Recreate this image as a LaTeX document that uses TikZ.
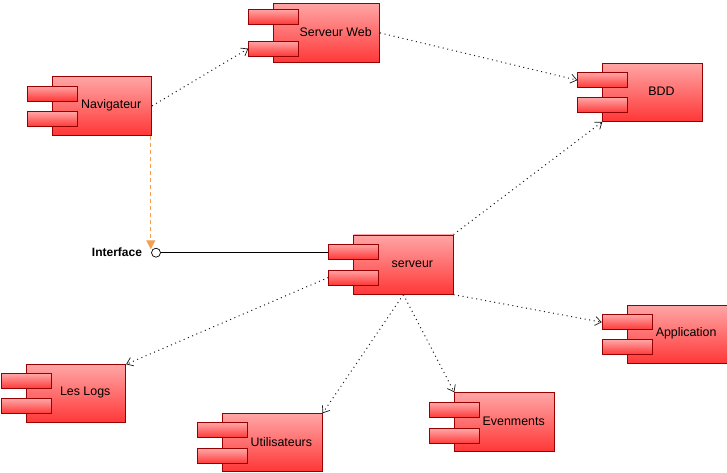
\documentclass[tikz,border=0pt]{standalone}
\usepackage{fontspec}
\setmainfont{Liberation Sans}
\usetikzlibrary{arrows.meta}

\definecolor{compborder}{RGB}{150,0,0}
\definecolor{comptop}{RGB}{255,165,165}
\definecolor{compbottom}{RGB}{255,55,55}
\definecolor{realize}{RGB}{245,160,80}
\definecolor{depcol}{RGB}{25,25,25}

\tikzset{
  compbox/.style={draw=compborder, line width=0.8pt, top color=comptop,
    bottom color=compbottom, inner sep=0pt},
  portbox/.style={compbox, minimum width=50pt, minimum height=15pt},
  complabel/.style={font=\fontsize{12.4}{14}\selectfont, text=black, inner sep=0pt},
  depend/.style={draw=depcol, line width=1pt, dash pattern=on 1pt off 3.6pt,
    -{Straight Barb[length=6pt,width=9pt,line width=0.7pt]}},
  realization/.style={draw=realize, line width=1pt, dash pattern=on 4pt off 3pt,
    -{Triangle[length=9pt,width=9pt,fill=realize]}},
  lollipop/.style={circle, draw=black, fill=white, line width=0.7pt,
    minimum size=9pt, inner sep=0pt},
}

% component: name, left, top, width, height, port1 offset, port2 offset, label
\newcommand\umlcomp[8]{%
  \node[compbox, minimum width=#4pt, minimum height=#5pt, anchor=north west] (#1) at (#2,#3) {};
  \node[portbox, anchor=north west] (#1-p1) at ([xshift=-25pt,yshift=-#6pt]#1.north west) {};
  \node[portbox, anchor=north west] (#1-p2) at ([xshift=-25pt,yshift=-#7pt]#1.north west) {};
  \node[complabel] (#1-t) at ([xshift=9pt,yshift=0.8pt]#1.center) {#8};
}

\begin{document}
\begin{tikzpicture}[x=1pt,y=-1pt]
  \useasboundingbox[fill=white] (0,0) rectangle (727,472);

  \umlcomp{nav}{52.3}{76}{99}{59}{9.6}{35.2}{Navigateur}
  \umlcomp{web}{273.3}{2.7}{106}{59.6}{6.3}{38}{Serveur Web}
  \umlcomp{bdd}{602.3}{62.7}{99.4}{58.3}{9.6}{34.6}{BDD}
  \umlcomp{srv}{353.3}{234.5}{99.4}{59.3}{9.3}{35.1}{serveur}
  \umlcomp{logs}{26.3}{364.3}{99}{58}{9}{34}{Les Logs}
  \umlcomp{users}{222.3}{413.3}{99.4}{57.7}{9}{35}{Utilisateurs}
  \umlcomp{events}{454.3}{392.3}{100}{58.7}{10}{36}{Evenments}
  \umlcomp{app}{626.7}{305}{100}{58.3}{9.3}{34.3}{Application}

  % provided interface of the server
  \node[lollipop] (iface) at (156,252.7) {};
  \node[font=\fontsize{12}{14}\selectfont\bfseries, inner sep=0pt, anchor=east]
    (iface-t) at ([xshift=-9pt]iface.west) {Interface};
  \draw[line width=0.8pt] (iface.east) -- (iface.east -| srv-p1.west);

  % realization of the interface by the browser
  \draw[realization] ([xshift=-1.3pt]nav.south east)
    -- ([xshift=-1.3pt]nav.south east |- iface.north west);

  % dependencies
  \draw[depend] (nav.east) -- (web-p2.west);
  \draw[depend] (web.east) -- (bdd-p1.west);
  \draw[depend] (srv.north east) -- (bdd.south west);
  \draw[depend] (srv-p2.west) -- (logs.north east);
  \draw[depend] (srv.south) -- (users.north east);
  \draw[depend] (srv.south) -- (events.north west);
  \draw[depend] (srv.south east) -- (app-p1.west);
\end{tikzpicture}
\end{document}
